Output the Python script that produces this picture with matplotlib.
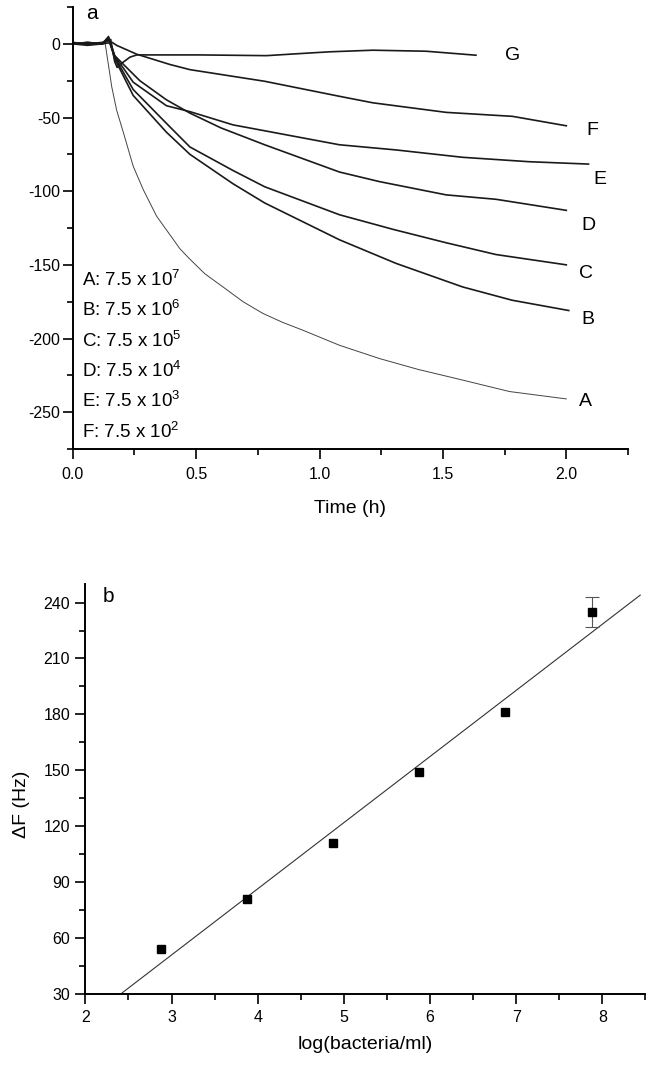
import numpy as np
import matplotlib
matplotlib.use('Agg')
import matplotlib.pyplot as plt
from matplotlib.ticker import MultipleLocator

plt.rcParams['font.family'] = ['Liberation Sans', 'DejaVu Sans']
plt.rcParams['mathtext.fontset'] = 'custom'
plt.rcParams['mathtext.rm'] = 'Liberation Sans'
plt.rcParams['mathtext.it'] = 'Liberation Sans:italic'
plt.rcParams['axes.unicode_minus'] = False

# ---- panel a: frequency shift vs time, curves
t_A = [0, 0.06, 0.12, 0.13, 0.158, 0.178, 0.205, 0.245, 0.286, 0.34, 0.40, 0.434, 0.474, 0.535,
       0.609, 0.69, 0.771, 0.85, 0.933, 1.081, 1.243, 1.40, 1.55, 1.77, 2.0]
f_A = [1, 0, 0, 2, -29, -45, -60, -83, -99, -117, -131, -139, -146, -156,
       -165, -175, -183, -189, -194.4, -204.6, -213.6, -221, -227, -236, -241]

t_B = [0, 0.06, 0.12, 0.145, 0.17, 0.245, 0.38, 0.475, 0.65, 0.778, 1.081, 1.31, 1.58, 1.78, 2.01]
f_B = [0, 1, 0, 4, -10, -35, -60, -75, -95, -108, -133, -149, -165, -174, -181]

t_C = [0, 0.06, 0.12, 0.145, 0.17, 0.245, 0.38, 0.475, 0.65, 0.778, 1.081, 1.3, 1.513, 1.715, 2.0]
f_C = [0, -1, 0, 4, -9, -31, -54, -70, -86, -97, -116, -126, -135, -143, -150]

t_D = [0, 0.06, 0.12, 0.145, 0.17, 0.272, 0.38, 0.475, 0.6, 0.778, 1.081, 1.243, 1.513, 1.715, 2.0]
f_D = [0, 0, 1, 3, -8, -25, -38, -47, -57, -68.5, -87, -93.5, -102.5, -105.5, -113]

t_E = [0, 0.06, 0.12, 0.145, 0.17, 0.245, 0.38, 0.475, 0.65, 0.778, 1.081, 1.31, 1.58, 1.85, 2.09]
f_E = [0, 0, 0, 5, -8, -26, -42, -46, -55, -59, -68.5, -72, -77, -80, -81.6]

t_F = [0, 0.06, 0.12, 0.16, 0.178, 0.259, 0.394, 0.475, 0.778, 1.081, 1.216, 1.513, 1.782, 2.0]
f_F = [0, 1, 0, 1, -1, -7, -14, -17.5, -25.4, -35.6, -40, -46.5, -49.2, -55.6]

t_G = [0, 0.06, 0.12, 0.154, 0.17, 0.18, 0.20, 0.232, 0.26, 0.515, 0.785, 0.92, 1.04, 1.216, 1.432, 1.634]
f_G = [1, 0, 0, 3, -12, -16, -13, -9, -7.5, -7.5, -8, -6.6, -5.4, -4.3, -5, -7.7]

curve_names = ['A', 'B', 'C', 'D', 'E', 'F', 'G']
label_pos = [(2.05, -243), (2.06, -187), (2.05, -156), (2.06, -123), (2.11, -92), (2.08, -59), (1.75, -8)]
conc_exp = [7, 6, 5, 4, 3, 2]

# ---- panel b: calibration
log_conc = np.array([2.875, 3.875, 4.875, 5.875, 6.875, 7.875])
delta_f = np.array([54, 81, 111, 149, 181, 235])
delta_f_err = np.array([0, 0, 0, 0, 0, 8])

fig = plt.figure(figsize=(6.58, 10.66), dpi=100)
ax1 = fig.add_axes([0.1105, 0.5788, 0.8439, 0.4146])
ax2 = fig.add_axes([0.1298, 0.0678, 0.8511, 0.3844])

for ax in (ax1, ax2):
    ax.spines['top'].set_visible(False)
    ax.spines['right'].set_visible(False)
    for s in ('left', 'bottom'):
        ax.spines[s].set_linewidth(1.4)
    ax.tick_params(which='major', direction='out', length=7, width=1.2, labelsize=11.5)
    ax.tick_params(which='minor', direction='out', length=4, width=1.2)

curves = [(t_A, f_A), (t_B, f_B), (t_C, f_C), (t_D, f_D), (t_E, f_E), (t_F, f_F), (t_G, f_G)]
for name, (t, f) in zip(curve_names, curves):
    if name == 'A':
        ax1.plot(t, f, color='#444444', lw=0.7)
    else:
        ax1.plot(t, f, color='#1a1a1a', lw=1.2)

for name, (x, y) in zip(curve_names, label_pos):
    ax1.text(x, y, name, fontsize=14, ha='left', va='center')

for i, (name, e) in enumerate(zip(curve_names[:6], conc_exp)):
    ax1.text(0.016, 0.383 - i * 0.0688, f'{name}: 7.5 x 10$^{{{e}}}$',
             transform=ax1.transAxes, fontsize=13.5, ha='left', va='center')

ax1.text(0.025, 0.985, 'a', transform=ax1.transAxes, fontsize=15, ha='left', va='center')
ax1.set_xlim(0, 2.25)
ax1.set_ylim(-275, 25)
ax1.xaxis.set_major_locator(MultipleLocator(0.5))
ax1.xaxis.set_minor_locator(MultipleLocator(0.25))
ax1.yaxis.set_major_locator(MultipleLocator(50))
ax1.yaxis.set_minor_locator(MultipleLocator(25))
ax1.xaxis.set_major_formatter(matplotlib.ticker.FormatStrFormatter('%.1f'))
ax1.tick_params(axis='x', pad=6)
ax1.tick_params(axis='y', pad=2)
ax1.set_xlabel('Time (h)', fontsize=14)
ax1.xaxis.set_label_coords(0.5, -0.1335)
ax1.xaxis.label.set_va('center')

# linear fit
slope, icpt = np.polyfit(log_conc, delta_f, 1)
x_fit = np.array([(30 - icpt) / slope, 8.44])
ax2.plot(x_fit, slope * x_fit + icpt, color='#333333', lw=0.8)
has_err = delta_f_err > 0
ax2.errorbar(log_conc[has_err], delta_f[has_err], yerr=delta_f_err[has_err], fmt='none',
             ecolor='#555555', elinewidth=0.8, capsize=5, capthick=0.8, zorder=2)
ax2.plot(log_conc, delta_f, 's', color='black', ms=5.5, zorder=3)

ax2.text(0.03, 0.97, 'b', transform=ax2.transAxes, fontsize=15, ha='left', va='center')
ax2.set_xlim(2, 8.5)
ax2.set_ylim(30, 250)
ax2.xaxis.set_major_locator(MultipleLocator(1))
ax2.xaxis.set_minor_locator(MultipleLocator(0.5))
ax2.yaxis.set_major_locator(MultipleLocator(30))
ax2.yaxis.set_minor_locator(MultipleLocator(15))
ax2.tick_params(axis='x', pad=5)
ax2.tick_params(axis='y', pad=4)
ax2.set_xlabel('log(bacteria/ml)', fontsize=14)
ax2.xaxis.set_label_coords(0.5, -0.125)
ax2.xaxis.label.set_va('center')
ax2.set_ylabel('ΔF (Hz)', fontsize=14)
ax2.yaxis.set_label_coords(-0.115, 0.463)
ax2.yaxis.label.set_va('center')

fig.savefig('out.png', dpi=100)
